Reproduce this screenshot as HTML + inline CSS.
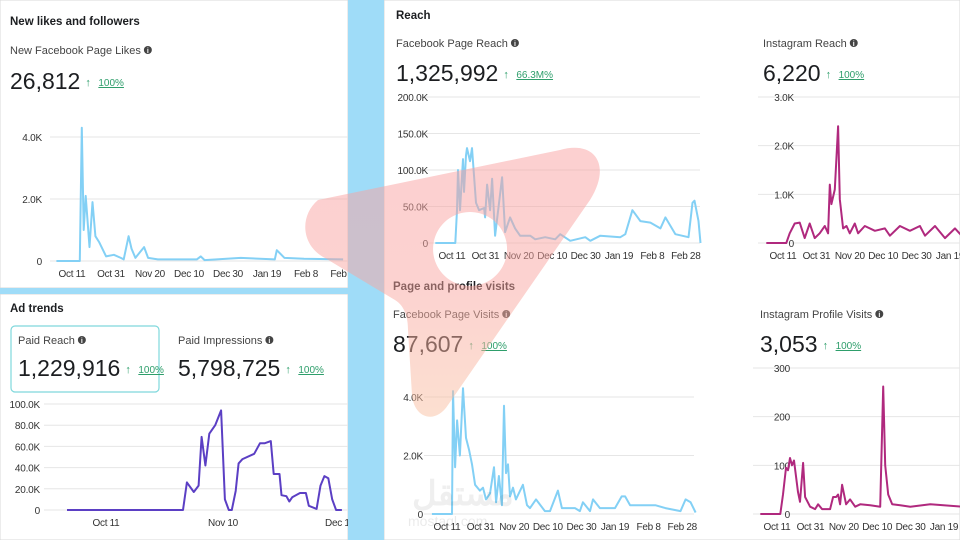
<!DOCTYPE html>
<html><head><meta charset="utf-8">
<style>
body{margin:0;width:960px;height:540px;overflow:hidden;background:#fff;font-family:"Liberation Sans",sans-serif;position:relative}
svg{position:absolute;left:0;top:0}
</style></head>
<body>
<svg id="s" width="960" height="540" viewBox="0 0 960 540">
<defs>
<linearGradient id="wg" x1="0" y1="0" x2="0" y2="1">
<stop offset="0" stop-color="#f8a0a0"/><stop offset="0.5" stop-color="#f9a5a0"/><stop offset="1" stop-color="#f8c0a0"/>
</linearGradient>
</defs>
<rect x="0" y="0" width="348" height="288" fill="#fff" stroke="#d8d8d8"/>
<rect x="0" y="294" width="348" height="246" fill="#fff" stroke="#d8d8d8"/>
<rect x="0" y="288" width="348" height="6" fill="#9fdcf8"/>
<rect x="384" y="0" width="576" height="540" fill="#fff" stroke="#d8d8d8"/>
<g id="charts"></g>
<rect x="348" y="0" width="36" height="540" fill="#9fdcf8"/>
<path d="M318,200 C300,215 300,245 325,258 L395,300 C405,306 408,318 408,330 L412,395 C414,418 435,425 448,405 L590,200 C612,165 595,140 560,150 Z M470,212 A37,37 0 1 0 470.1,212 Z" fill="url(#wg)" fill-rule="evenodd" opacity="0.5"/>
<text x="412" y="505" font-size="34" font-weight="bold" fill="#000" opacity="0.06">مستقل</text>
<text x="408" y="526" font-size="14" fill="#000" opacity="0.08">mostaql.com</text>
</svg>
<script>
// ---- data ----
const likesDays=[-8,4,5,6,7,9,10.5,12,14,17.5,21.5,25,26.5,29,30.5,32.5,35,37,39,44,54,64,66,68,86.5,104,105,109,119,139];
const likesVals=[0,0,4.3,1.0,2.1,0.45,1.9,0.8,0.6,0.15,0.2,0.1,0.05,0.8,0.4,0.1,0.3,0.45,0.1,0.05,0.05,0.05,0.15,0.03,0.1,0.05,0.35,0.1,0.07,0.05];
const likesTicks=[0,2,4];const likesTickLabels=["0","2.0K","4.0K"];
const likesXDays=[0,20,40,60,80,100,120,140];const likesXLabels=["Oct 11","Oct 31","Nov 20","Dec 10","Dec 30","Jan 19","Feb 8","Feb 28"];

const paidDays=[-10,19.75,20.75,22.5,23.75,24.5,25.5,26.5,28,29.5,30.5,31.5,32.25,33.25,34,35,38,39.5,40.75,42.25,43,44.5,45,46.25,47,47.75,49.75,51.25,52,54,55,56,57,58,59,60.5];
const paidVals=[0,0,26,17,23,69,42,72,80,94,10,0,0,18,44,48,53,63,63,65,34,34,14,13,8,12,16,16,4,1,23,32,30,10,0,0];
const paidTicks=[0,20,40,60,80,100];const paidTickLabels=["0","20.0K","40.0K","60.0K","80.0K","100.0K"];
const paidXDays=[0,30,60];const paidXLabels=["Oct 11","Nov 10","Dec 10"];

const fbReachDays=[-10,2,3,3.6,4.8,6.6,7.2,8.4,9,10.8,12,14.4,16.2,19.2,19.8,21,22.8,24,25.8,30,31.8,34.8,37.8,40.8,46.8,49.8,55.8,61.8,64.8,70.8,79.8,82.8,88.8,100.8,103.8,108,112.8,118.8,124.8,127.8,133.8,141.6,144,145.2,147.6,148.8];
const fbReachVals=[0,0,45,100,45,115,70,120,130,112,130,55,45,48,35,80,45,88,10,90,15,35,20,10,10,5,8,5,12,3,8,3,10,8,12,45,30,28,20,35,12,8,55,58,30,0];
const reachTicks=[0,50,100,150,200];const reachTickLabels=["0","50.0K","100.0K","150.0K","200.0K"];
const dateXDays=[0,20,40,60,80,100,120,140];const dateXLabels=["Oct 11","Oct 31","Nov 20","Dec 10","Dec 30","Jan 19","Feb 8","Feb 28"];

const igReachDays=[-10,2,4,7,10,13,16,19,22,25,27,28,29,31,33,34,36,38,40,43,45,49,55,61,64,70,76,82,85,91,97,103,107];
const igReachVals=[0,0,200,400,420,100,400,100,200,350,200,1200,800,1100,2400,900,300,350,200,400,200,350,250,300,150,350,250,350,150,350,100,300,150];
const igReachTicks=[0,1000,2000,3000];const igReachTickLabels=["0","1.0K","2.0K","3.0K"];

const fbVisitDays=[-9,3,3.6,4.8,6,7.7,9.5,11.3,13.1,14.9,16.7,19.6,21.4,23.2,25.6,28,29.2,30.9,32.7,33.9,35.1,36.3,37.5,39.3,41,45.2,47.6,49.4,53,58.3,61.3,66,68.4,76.2,79.1,80.9,85.1,86.9,91,100,104,106,109,118,124,130,139,142,145,148];
const fbVisitVals=[0,0,4.2,1.6,3.2,2.0,4.3,2.6,2.2,1.7,1.0,0.8,0.9,0.5,0.7,1.6,0.4,1.3,0.3,3.7,1.4,1.7,0.6,0.9,0.5,1.0,0.3,0.2,0.5,0.1,0.1,0.8,0.2,0.2,0.1,0.4,0.1,0.5,0.2,0.2,0.6,0.6,0.3,0.3,0.3,0.2,0.1,0.5,0.4,0.05];
const visitTicks=[0,2,4];const visitTickLabels=["0","2.0K","4.0K"];

const igVisitDays=[-10,2,3.6,5.4,6.6,7.8,9,10.2,12.6,13.8,15.6,16.8,19.8,22.8,24.6,27,31.8,33.6,35.4,36.6,37.8,39,41.4,43.8,46.8,49.8,55.8,61.8,63.6,64.8,66.6,69,73.8,79.8,91.8,111];
const igVisitVals=[0,0,40,95,90,115,100,110,45,25,105,35,15,10,20,10,10,35,35,40,20,60,20,30,15,20,18,15,262,100,40,20,18,15,20,15];
const igVisitTicks=[0,100,200,300];const igVisitTickLabels=["0","100","200","300"];

// ---- drawing ----
const NS="http://www.w3.org/2000/svg";
const root=document.getElementById('charts');
function mk(tag,attrs,txt){const e=document.createElementNS(NS,tag);for(const k in attrs)e.setAttribute(k,attrs[k]);if(txt!==undefined)e.textContent=txt;root.appendChild(e);return e;}
function chart(name,cfg,days,vals,yTicks,yLabels,xDays,xLabels,color){
  const sx=d=>cfg.x0+d*cfg.ppd;
  const sy=v=>cfg.y0-(v/cfg.yMax)*cfg.h;
  yTicks.forEach((t,i)=>{
    const g=mk('line',{x1:cfg.gx1,x2:cfg.gx2,y1:sy(t),y2:sy(t),stroke:'#e6e6e6','stroke-width':1});
    
    
    const l=mk('text',{x:cfg.lx,y:sy(t)+4,'font-size':10,fill:'#333','text-anchor':'end','letter-spacing':'-0.2'},yLabels[i]);
    
    
  });
  xDays.forEach((d,i)=>{
    const l=mk('text',{x:sx(d),y:cfg.y0+16,'font-size':10,fill:'#333','text-anchor':'middle','letter-spacing':'-0.3'},xLabels[i]);
    
    
  });
  const pts=days.map((d,i)=>sx(d).toFixed(1)+','+sy(vals[i]).toFixed(1)).join(' ');
  const p=mk('polyline',{points:pts,fill:'none',stroke:color,'stroke-width':2,'stroke-linejoin':'round'});
  
  
}
function label(x,y,size,txt,opts,name){
  const e=mk('text',Object.assign({x:x,y:y,'font-size':size,fill:'#1c1e21'},opts||{}),txt);
  
  
  return e;
}
function info(x,y,name){
  const c=mk('circle',{cx:x,cy:y,r:4,fill:'#444'});
  
  
  const t=mk('text',{x:x,y:y+3,'font-size':7,fill:'#fff','text-anchor':'middle','font-weight':'bold'},'i');
  
  
}
function sub(x,y,txt,name){
  const e=label(x,y,11,txt,{fill:'#444'},name+'-label');
  info(x+e.getComputedTextLength()+7,y-4,name+'-info');
}
function metric(x,y,num,pct,name,size){
  const n=label(x,y,size||23,num,{fill:'#1c1e21'},name+'-value');
  const w=n.getComputedTextLength();
  label(x+w+5,y-3,11,'↑',{fill:'#2e9e6b'},name+'-arrow');
  const p=label(x+w+18,y-3,10,pct,{fill:'#2e9e6b','text-decoration':'underline','text-decoration-style':'dotted'},name+'-change');
  
}
// titles
label(10,25,11.5,'New likes and followers',{'font-weight':'bold'},'likes-title');
sub(10,54,'New Facebook Page Likes','likes');
metric(10,89,'26,812','100%','likes');
label(10,312,11.5,'Ad trends',{'font-weight':'bold'},'ad-trends-title');
const box=mk('rect',{x:11,y:326,width:148,height:66,rx:4,fill:'none',stroke:'#7fd8dc','stroke-width':1.2});


sub(18,344,'Paid Reach','paid-reach');
metric(18,376,'1,229,916','100%','paid-reach');
sub(178,344,'Paid Impressions','paid-impressions');
metric(178,376,'5,798,725','100%','paid-impressions');
label(396,19,11.5,'Reach',{'font-weight':'bold'},'reach-title');
sub(396,47,'Facebook Page Reach','fb-reach');
metric(396,81,'1,325,992','66.3M%','fb-reach');
sub(763,47,'Instagram Reach','ig-reach');
metric(763,81,'6,220','100%','ig-reach');
label(393,290,11.5,'Page and profile visits',{'font-weight':'bold'},'visits-title');
sub(393,318,'Facebook Page Visits','fb-visits');
metric(393,352,'87,607','100%','fb-visits');
sub(760,318,'Instagram Profile Visits','ig-visits');
metric(760,352,'3,053','100%','ig-visits');
// charts
chart('likes-chart',{x0:72,ppd:1.95,y0:261,h:124,yMax:4,gx1:50,gx2:348,lx:42},likesDays,likesVals,likesTicks,likesTickLabels,likesXDays,likesXLabels,'#83d0f5');
chart('paid-reach-chart',{x0:106,ppd:3.9,y0:510,h:106,yMax:100,gx1:44,gx2:348,lx:40},paidDays,paidVals,paidTicks,paidTickLabels,paidXDays,paidXLabels,'#5b3fc4');
chart('fb-reach-chart',{x0:452,ppd:1.67,y0:243,h:146,yMax:200,gx1:420,gx2:700,lx:428},fbReachDays,fbReachVals,reachTicks,reachTickLabels,dateXDays,dateXLabels,'#83d0f5');
chart('ig-reach-chart',{x0:783,ppd:1.67,y0:243,h:146,yMax:3000,gx1:758,gx2:960,lx:794},igReachDays,igReachVals,igReachTicks,igReachTickLabels,dateXDays,dateXLabels,'#b0297e');
chart('fb-visits-chart',{x0:447,ppd:1.68,y0:514,h:117,yMax:4,gx1:424,gx2:694,lx:423},fbVisitDays,fbVisitVals,visitTicks,visitTickLabels,dateXDays,dateXLabels,'#83d0f5');
chart('ig-visits-chart',{x0:777,ppd:1.67,y0:514,h:146,yMax:300,gx1:753,gx2:960,lx:790},igVisitDays,igVisitVals,igVisitTicks,igVisitTickLabels,dateXDays,dateXLabels,'#b0297e');
</script>
</body></html>
